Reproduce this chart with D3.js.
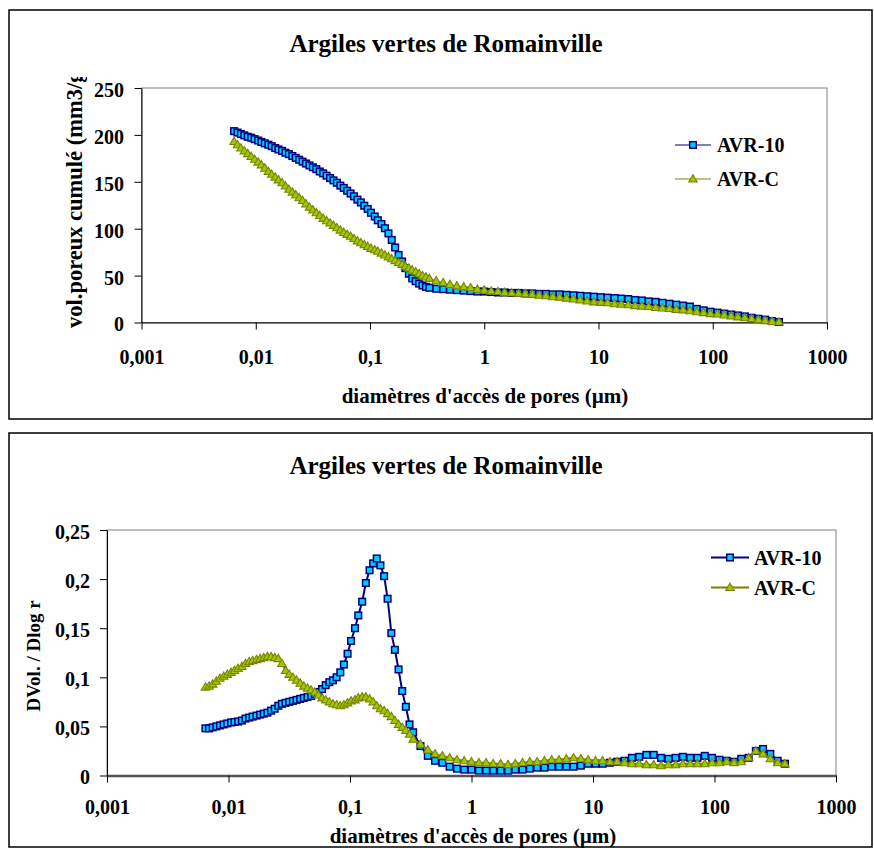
<!DOCTYPE html>
<html><head><meta charset="utf-8">
<script src="https://cdn.jsdelivr.net/npm/d3@7"></script>
<style>body{margin:0;background:#fff}svg{display:block}text{font-family:"Liberation Serif","Times New Roman",serif;font-weight:bold;fill:#000}</style>
</head><body>
<svg id="c" width="874" height="848"></svg>
<script>
const title = "Argiles vertes de Romainville";
const seriesNames = ["AVR-10", "AVR-C"];
const xTickValues = [0.001, 0.01, 0.1, 1, 10, 100, 1000];
const xTickLabels = ["0,001", "0,01", "0,1", "1", "10", "100", "1000"];
const yTickValuesTop = [0, 50, 100, 150, 200, 250];
const yTickLabelsTop = ["0", "50", "100", "150", "200", "250"];
const yTickValuesBot = [0, 0.05, 0.1, 0.15, 0.2, 0.25];
const yTickLabelsBot = ["0", "0,05", "0,1", "0,15", "0,2", "0,25"];
const xLabel = "diamètres d'accès de pores (µm)";
const yLabelTop = "vol.poreux cumulé (mm3/g)";
const yLabelBot = "DVol. / Dlog r";

// pore access diameters (µm)
const diameters = [
  0.00646, 0.00692, 0.00741, 0.00794, 0.00851, 0.00912, 0.00977, 0.0105, 0.0112, 0.0120,
  0.0129, 0.0138, 0.0148, 0.0158, 0.0170, 0.0182, 0.0195, 0.0209, 0.0224, 0.0240,
  0.0257, 0.0275, 0.0295, 0.0316, 0.0339, 0.0363, 0.0389, 0.0417, 0.0447, 0.0479,
  0.0513, 0.0550, 0.0589, 0.0631, 0.0676, 0.0724, 0.0776, 0.0832, 0.0891, 0.0955,
  0.102, 0.110, 0.117, 0.126, 0.135, 0.145, 0.155, 0.166, 0.178, 0.191,
  0.204, 0.219, 0.234, 0.251, 0.269, 0.288, 0.309, 0.331,
  0.380, 0.437, 0.501, 0.575, 0.661, 0.759, 0.871, 1.00,
  1.15, 1.32, 1.51, 1.74, 2.00, 2.29, 2.63, 3.02, 3.47, 3.98,
  4.57, 5.25, 6.03, 6.92, 7.94, 9.12,
  10.5, 12.0, 13.8, 15.8, 18.2, 20.9, 24.0, 27.5, 31.6, 36.3,
  41.7, 47.9, 55.0, 63.1, 72.4, 83.2, 95.5,
  110, 126, 145, 166, 191, 219, 251, 288, 331, 380
];

// cumulative pore volume (mm3/g)
const cumAVR10 = [
  204, 202.5, 201, 199.5, 198, 197, 195.5, 194, 192.5, 191,
  189.5, 188, 186, 184.5, 183, 181, 179.5, 177.5, 175.5, 173.5,
  171.5, 169.5, 167.5, 165.5, 163.5, 161, 159, 156.5, 154, 151.5,
  149, 146, 143.5, 140.5, 137.5, 134.5, 131, 128, 124.5, 121,
  117, 113, 109, 105, 100.5, 95, 88, 80, 72, 65,
  58, 52, 47, 44, 41.5, 39.5, 38, 37,
  36, 35.5, 35, 34.5, 34, 33.5, 33, 33,
  32.5, 32, 32, 31.5, 31.5, 31, 31, 30.5, 30.5, 30,
  30, 29.5, 29, 28.5, 28, 27.5,
  27, 26.5, 26, 25.5, 25, 24, 23.5, 22.5, 22, 21,
  20, 19, 18, 17, 14.5, 13, 11.5,
  10.5, 9.5, 8.5, 7.5, 6.5, 5, 4, 3, 1.5, 0.5
];
const cumAVRC = [
  193, 189.5, 186, 183, 180, 177, 174, 171, 168, 164.5,
  161, 158, 155, 152, 149, 145.5, 142, 139, 136, 133,
  130, 126.5, 123, 120, 117, 114, 111, 108.5, 106, 103.5,
  101, 98.5, 96, 94, 92, 89.5, 87, 85, 83, 81,
  79, 77.5, 76, 74, 72, 70, 68, 66, 64, 62,
  60, 58, 56, 54, 52, 50, 48.5, 47,
  44.5, 42.5, 40.5, 39, 38, 37, 35.5, 34.5,
  33.5, 33, 32, 31.5, 31, 30.5, 30, 29, 28.5, 27.5,
  27, 26, 25, 24, 23, 22,
  21.5, 21, 20, 19.5, 19, 18, 17.5, 17, 16, 15.5,
  15, 14, 13.5, 12.5, 11.5, 10.5, 9.5,
  9, 8, 7, 6, 5, 4, 3, 2, 1, 0.5
];

// DVol / Dlog r
const dAVR10 = [
  0.048, 0.048, 0.049, 0.050, 0.051, 0.052, 0.053, 0.054, 0.0545, 0.055,
  0.056, 0.058, 0.059, 0.060, 0.061, 0.062, 0.063, 0.064, 0.066, 0.068,
  0.071, 0.073, 0.074, 0.075, 0.076, 0.077, 0.078, 0.079, 0.080, 0.081,
  0.083, 0.085, 0.088, 0.092, 0.095, 0.097, 0.100, 0.105, 0.113, 0.124,
  0.137, 0.150, 0.163, 0.177, 0.196, 0.209, 0.216, 0.221, 0.214, 0.203,
  0.180, 0.145, 0.128, 0.108, 0.086, 0.070, 0.052, 0.044,
  0.030, 0.020, 0.015, 0.013, 0.009, 0.007, 0.006, 0.006,
  0.005, 0.005, 0.005, 0.005, 0.005, 0.006, 0.006, 0.007, 0.008, 0.008,
  0.009, 0.009, 0.009, 0.009, 0.010, 0.012,
  0.012, 0.012, 0.013, 0.014, 0.015, 0.018, 0.019, 0.021, 0.021, 0.018,
  0.017, 0.018, 0.019, 0.018, 0.018, 0.020, 0.018,
  0.016, 0.015, 0.014, 0.017, 0.018, 0.025, 0.027, 0.022, 0.015, 0.012
];
const dAVRC = [
  0.090, 0.091, 0.093, 0.096, 0.099, 0.101, 0.103, 0.105, 0.107, 0.109,
  0.111, 0.114, 0.116, 0.117, 0.118, 0.119, 0.120, 0.121, 0.121, 0.120,
  0.119, 0.114, 0.107, 0.103, 0.100, 0.097, 0.094, 0.091, 0.089, 0.087,
  0.085, 0.082, 0.079, 0.077, 0.075, 0.073, 0.072, 0.071, 0.072, 0.074,
  0.076, 0.077, 0.079, 0.080, 0.080, 0.078, 0.075, 0.071, 0.068, 0.066,
  0.063, 0.060, 0.056, 0.052, 0.049, 0.046, 0.042, 0.037,
  0.032, 0.026, 0.022, 0.020, 0.018, 0.016, 0.015, 0.014,
  0.013, 0.013, 0.012, 0.012, 0.011, 0.012, 0.013, 0.014, 0.014, 0.015,
  0.016, 0.016, 0.017, 0.018, 0.017, 0.016,
  0.015, 0.015, 0.014, 0.014, 0.013, 0.012, 0.012, 0.011, 0.011, 0.010,
  0.011, 0.011, 0.012, 0.012, 0.012, 0.012, 0.013,
  0.013, 0.014, 0.013, 0.014, 0.018, 0.025, 0.022, 0.017, 0.013, 0.012
];

const svg = d3.select("#c");
const NAVY = "#000080", CYAN = "#00ccff", OLIVE = "#808000", LIME = "#99cc00";

function squareMarker(g) {
  g.append("rect").attr("x", -3.3).attr("y", -3.3).attr("width", 6.6).attr("height", 6.6)
    .attr("fill", CYAN).attr("stroke", NAVY).attr("stroke-width", 1.5);
}
function triangleMarker(g) {
  g.append("path").attr("d", "M0,-4.3L4.2,3L-4.2,3Z")
    .attr("fill", LIME).attr("stroke", OLIVE).attr("stroke-width", 1.1);
}

function drawChart(cfg) {
  const g = svg.append("g");
  g.append("rect").attr("x", cfg.box[0]).attr("y", cfg.box[1])
    .attr("width", cfg.box[2] - cfg.box[0]).attr("height", cfg.box[3] - cfg.box[1])
    .attr("fill", "#fff").attr("stroke", "#000").attr("stroke-width", 1.5);

  const x = d3.scaleLog().domain([0.001, 1000]).range([cfg.px0, cfg.px1]);
  const y = d3.scaleLinear().domain([cfg.yTicks[0], cfg.yTicks[cfg.yTicks.length - 1]]).range([cfg.py1, cfg.py0]);

  g.append("rect").attr("x", cfg.px0).attr("y", cfg.py0)
    .attr("width", cfg.px1 - cfg.px0).attr("height", cfg.py1 - cfg.py0)
    .attr("fill", "none").attr("stroke", "#808080").attr("stroke-width", 1);

  g.append("text").attr("x", 446).attr("y", cfg.titleY).attr("text-anchor", "middle")
    .style("font-size", "25px").text(title);

  const xa = g.append("g").attr("transform", `translate(0,${cfg.py1})`)
    .call(d3.axisBottom(x).tickValues(xTickValues).tickFormat((d, i) => xTickLabels[i]).tickSize(7).tickSizeOuter(0));
  xa.select(".domain").attr("stroke", cfg.xAxisColor).attr("stroke-width", cfg.xAxisWidth);
  xa.selectAll(".tick line").attr("stroke", "#000");
  xa.selectAll(".tick text").attr("y", cfg.xTickBaseline).attr("dy", 0)
    .style("font-size", "20px").style("font-family", "Liberation Serif").style("font-weight", "bold").attr("fill", "#000");

  const ya = g.append("g").attr("transform", `translate(${cfg.px0},0)`)
    .call(d3.axisLeft(y).tickValues(cfg.yTicks).tickFormat((d, i) => cfg.yLabels[i]).tickSize(7).tickSizeOuter(0));
  ya.select(".domain").attr("stroke", "#000");
  ya.selectAll(".tick line").attr("stroke", "#000");
  ya.selectAll(".tick text").attr("x", -cfg.yTickPad).attr("dy", "0.42em")
    .style("font-size", "20px").style("font-family", "Liberation Serif").style("font-weight", "bold").attr("fill", "#000");

  g.append("text").attr("x", cfg.xLabelX).attr("y", cfg.xLabelY).attr("text-anchor", "middle")
    .style("font-size", "21px").text(xLabel);
  const ylg = g.append("g");
  if (cfg.yClip) ylg.attr("clip-path", "url(#" + cfg.yClip + ")");
  ylg.append("text")
    .attr("transform", `translate(${cfg.yLabelX},${cfg.yLabelY}) rotate(-90)`)
    .attr("text-anchor", cfg.yLabelAnchor)
    .style("font-size", cfg.yLabelSize).text(cfg.yLabel);

  const s1 = diameters.map((d, i) => ({ d, v: cfg.v1[i] }));
  const s2 = diameters.map((d, i) => ({ d, v: cfg.v2[i] }));
  const line = d3.line().x(p => x(p.d)).y(p => y(p.v));
  g.append("path").datum(s1).attr("d", line).attr("fill", "none").attr("stroke", NAVY).attr("stroke-width", cfg.lw);
  g.selectAll(null).data(s1).join("g").attr("transform", p => `translate(${x(p.d)},${y(p.v)})`).each(function () { squareMarker(d3.select(this)); });
  g.append("path").datum(s2).attr("d", line).attr("fill", "none").attr("stroke", OLIVE).attr("stroke-width", cfg.lw);
  g.selectAll(null).data(s2).join("g").attr("transform", p => `translate(${x(p.d)},${y(p.v)})`).each(function () { triangleMarker(d3.select(this)); });

  const lg = cfg.legend;
  [[NAVY, squareMarker], [OLIVE, triangleMarker]].forEach((s, i) => {
    const yy = lg.y[i];
    g.append("line").attr("x1", lg.x1).attr("x2", lg.x2).attr("y1", yy).attr("y2", yy)
      .attr("stroke", s[0]).attr("stroke-width", cfg.lw);
    s[1](g.append("g").attr("transform", `translate(${(lg.x1 + lg.x2) / 2},${yy})`));
    g.append("text").attr("x", lg.tx).attr("y", yy + 7).style("font-size", "20px").text(seriesNames[i]);
  });
}

svg.append("defs").append("clipPath").attr("id", "ylclip").attr("clipPathUnits", "userSpaceOnUse")
  .append("rect").attr("x", 0).attr("y", 77).attr("width", 140).attr("height", 340);

drawChart({
  box: [9, 10, 872, 419], px0: 141.5, px1: 827, py0: 88, py1: 322.5,
  yTicks: yTickValuesTop, yLabels: yTickLabelsTop, titleY: 52,
  xTickBaseline: 41, yTickPad: 17.5, xAxisColor: "#000", xAxisWidth: 1,
  xLabelX: 485, xLabelY: 403, yLabel: yLabelTop, yLabelX: 82, yLabelY: 328,
  yLabelAnchor: "start", yLabelSize: "22.5px", yClip: "ylclip",
  v1: cumAVR10, v2: cumAVRC, lw: 1,
  legend: { x1: 675, x2: 711, tx: 717, y: [145, 179] }
});
drawChart({
  box: [9, 433, 872, 847], px0: 107, px1: 836, py0: 530, py1: 775.5,
  yTicks: yTickValuesBot, yLabels: yTickLabelsBot, titleY: 474,
  xTickBaseline: 38.5, yTickPad: 17, xAxisColor: "#555", xAxisWidth: 2.5,
  xLabelX: 473, xLabelY: 842.5, yLabel: yLabelBot, yLabelX: 39.5, yLabelY: 656,
  yLabelAnchor: "middle", yLabelSize: "19px", yClip: null,
  v1: dAVR10, v2: dAVRC, lw: 2,
  legend: { x1: 711, x2: 749, tx: 754, y: [557.5, 587.5] }
});
</script>
</body></html>
